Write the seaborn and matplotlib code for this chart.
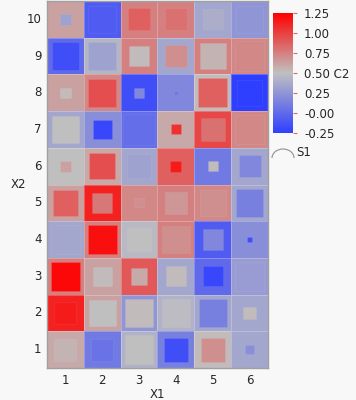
import numpy as np
import pandas as pd
import matplotlib
matplotlib.use('Agg')
import matplotlib.pyplot as plt
import seaborn as sns
from matplotlib.colors import LinearSegmentedColormap, Normalize
from matplotlib.patches import Rectangle, Arc

# X1 columns, X2 rows (top row = 10)
x1 = [1, 2, 3, 4, 5, 6]
x2 = [10, 9, 8, 7, 6, 5, 4, 3, 2, 1]

# cell colour (outer)
c_outer = [
    [0.62, -0.08, 0.75, 0.75, 0.35, 0.25],
    [0.00, 0.44, 0.75, 0.35, 0.75, 0.72],
    [0.62, 0.72, -0.16, 0.17, 0.52, -0.25],
    [0.35, 0.21, 0.02, 0.59, 0.97, 0.72],
    [0.50, 0.59, 0.35, 0.88, 0.09, 0.35],
    [0.62, 1.12, 0.72, 0.75, 0.72, 0.35],
    [0.35, 0.75, 0.46, 0.75, -0.08, 0.21],
    [0.75, 0.62, 0.91, 0.35, 0.00, 0.29],
    [1.12, 0.62, 0.25, 0.42, 0.35, 0.35],
    [0.59, 0.09, 0.42, 0.13, 0.52, 0.35],
]
# inner square colour (C2)
c_inner = [
    [0.33, -0.08, 0.88, 0.81, 0.40, 0.25],
    [-0.16, 0.33, 0.52, 0.69, 0.55, 0.72],
    [0.52, 0.94, 0.17, 0.09, 0.88, -0.25],
    [0.50, -0.20, 0.02, 1.06, 0.81, 0.72],
    [0.62, 0.94, 0.33, 1.15, 0.52, 0.17],
    [0.88, 0.78, 0.69, 0.66, 0.69, 0.13],
    [0.35, 1.19, 0.50, 0.69, 0.17, -0.16],
    [1.22, 0.52, 0.59, 0.52, -0.20, 0.29],
    [1.14, 0.50, 0.52, 0.48, 0.13, 0.52],
    [0.55, 0.05, 0.50, -0.16, 0.69, 0.21],
]
# inner square size (S1, fraction of cell)
s1 = [
    [0.30, 0.75, 0.60, 0.60, 0.55, 0.72],
    [0.75, 0.75, 0.55, 0.60, 0.70, 0.80],
    [0.28, 0.75, 0.28, 0.12, 0.78, 0.70],
    [0.72, 0.52, 0.85, 0.27, 0.65, 0.80],
    [0.30, 0.70, 0.65, 0.30, 0.28, 0.60],
    [0.70, 0.55, 0.25, 0.60, 0.70, 0.75],
    [0.80, 0.80, 0.65, 0.75, 0.55, 0.12],
    [0.78, 0.52, 0.45, 0.55, 0.55, 0.80],
    [0.60, 0.72, 0.75, 0.75, 0.75, 0.35],
    [0.60, 0.60, 0.78, 0.65, 0.65, 0.25],
]
cbar_ticks = [-0.25, 0.0, 0.25, 0.5, 0.75, 1.0, 1.25]
cbar_labels = ['-0.25', '-0.00', '0.25', '0.50 C2', '0.75', '1.00', '1.25']

cmap = LinearSegmentedColormap.from_list('jmp', ['#2f3fff', '#c0c0c0', '#ff0000'])
norm = Normalize(-0.25, 1.25)

sns.set_style('white')
plt.rcParams['font.family'] = ['DejaVu Sans']

fig = plt.figure(figsize=(3.56, 4.0), dpi=100, facecolor='#f8f8f8')
ax = fig.add_axes([47 / 356, 1 - 368 / 400, 221 / 356, 367 / 400])
cax = fig.add_axes([273 / 356, 1 - 133 / 400, 20 / 356, 120 / 400])

df = pd.DataFrame(c_outer, index=x2, columns=x1)
sns.heatmap(df, ax=ax, cmap=cmap, vmin=-0.25, vmax=1.25, cbar=False,
            linewidths=0.6, linecolor=(1, 1, 1, 0.25))

for i in range(len(x2)):
    for j in range(len(x1)):
        s = s1[i][j]
        ax.add_patch(Rectangle((j + 0.5 - s / 2, i + 0.5 - s / 2), s, s,
                               facecolor=cmap(norm(c_inner[i][j])),
                               edgecolor=(1, 1, 1, 0.08), lw=0.5))

for sp in ax.spines.values():
    sp.set_visible(True)
    sp.set_color('#a0a0a0')
    sp.set_linewidth(1)
ax.set_xlabel('X1', fontsize=8.5, labelpad=1)
ax.set_ylabel('X2', fontsize=8.5, rotation=0, labelpad=6, va='center')
ax.tick_params(axis='both', labelsize=8.5, length=0, pad=4)
ax.set_yticklabels([str(v) for v in x2], rotation=0)

cb = fig.colorbar(plt.cm.ScalarMappable(norm=norm, cmap=cmap), cax=cax)
cb.outline.set_visible(False)
cb.set_ticks(cbar_ticks)
cb.set_ticklabels(cbar_labels)
cax.tick_params(labelsize=8.5, length=3, color='#d07070', pad=5)

# size legend
fig.patches.append(Arc((283 / 356, 1 - 158 / 400), 22 / 356, 18 / 400, theta1=0, theta2=180,
                       transform=fig.transFigure, color='#909090', lw=0.8))
fig.text(296 / 356, 1 - 152 / 400, 'S1', fontsize=8.5, va='center')

fig.savefig('out.png', dpi=100, facecolor=fig.get_facecolor())
